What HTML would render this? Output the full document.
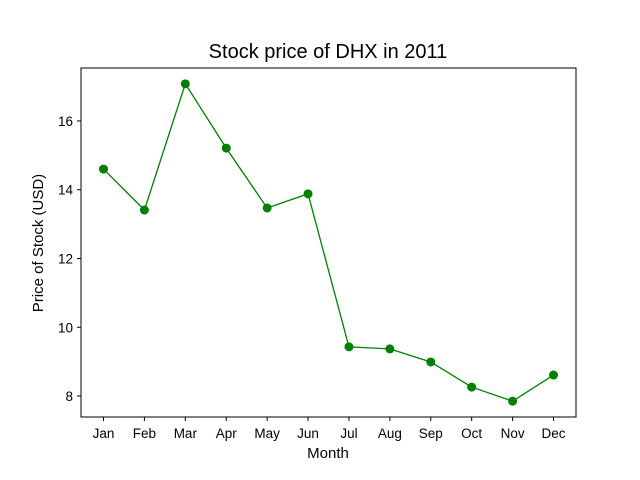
<!DOCTYPE html>
<html><head><meta charset="utf-8"><style>
body{margin:0;background:#fff;}
svg{display:block;font-family:"Liberation Sans","DejaVu Sans",sans-serif;}
</style></head><body>
<svg id="chart" width="640" height="480">
<rect width="640" height="480" fill="#fff"/>
<text x="328" y="58" text-anchor="middle" font-size="20">Stock price of DHX in 2011</text>
<text x="328" y="458" text-anchor="middle" font-size="15">Month</text>
<text transform="translate(43,243) rotate(-90)" text-anchor="middle" font-size="15">Price of Stock (USD)</text>
<g id="ticks"></g>
<g id="plot"></g>
<rect x="81" y="68" width="495" height="349" fill="none" stroke="#000" stroke-width="1"/>
</svg>
<script>
const months=["Jan","Feb","Mar","Apr","May","Jun","Jul","Aug","Sep","Oct","Nov","Dec"];
const prices=[14.6,13.41,17.08,15.21,13.47,13.88,9.43,9.37,8.99,8.26,7.85,8.61];
const yTicks=[8,10,12,14,16];
const NS="http://www.w3.org/2000/svg";
const L=81,R=576,T=68,B=417;
const xMin=-0.55,xMax=months.length-1+0.55;
const yMin=7.39,yMax=17.54;
const xs=i=>L+(i-xMin)/(xMax-xMin)*(R-L);
const ys=v=>B-(v-yMin)/(yMax-yMin)*(B-T);
function mk(tag,attrs,parent){const e=document.createElementNS(NS,tag);for(const k in attrs)e.setAttribute(k,attrs[k]);parent.appendChild(e);return e;}
const tg=document.getElementById('ticks'),pg=document.getElementById('plot');
months.forEach((m,i)=>{
 const x=xs(i);
 const l=mk('line',{x1:x,x2:x,y1:B,y2:B+4,stroke:'#000'},tg);
 
 
 const t=mk('text',{x:x,y:B+21,'text-anchor':'middle','font-size':'13.5'},tg);
 t.textContent=m;
 
 
});
yTicks.forEach(v=>{
 const y=ys(v);
 const l=mk('line',{x1:L-4,x2:L,y1:y,y2:y,stroke:'#000'},tg);
 
 
 const t=mk('text',{x:L-8,y:y+5,'text-anchor':'end','font-size':'13.5'},tg);
 t.textContent=v;
 
 
});
const pts=prices.map((p,i)=>xs(i)+','+ys(p)).join(' ');
const pl=mk('polyline',{points:pts,fill:'none',stroke:'#008000','stroke-width':'1.3'},pg);


prices.forEach((p,i)=>{
 const c=mk('circle',{cx:xs(i),cy:ys(p),r:4.5,fill:'#008000'},pg);
 
 
});
</script>
</body></html>
